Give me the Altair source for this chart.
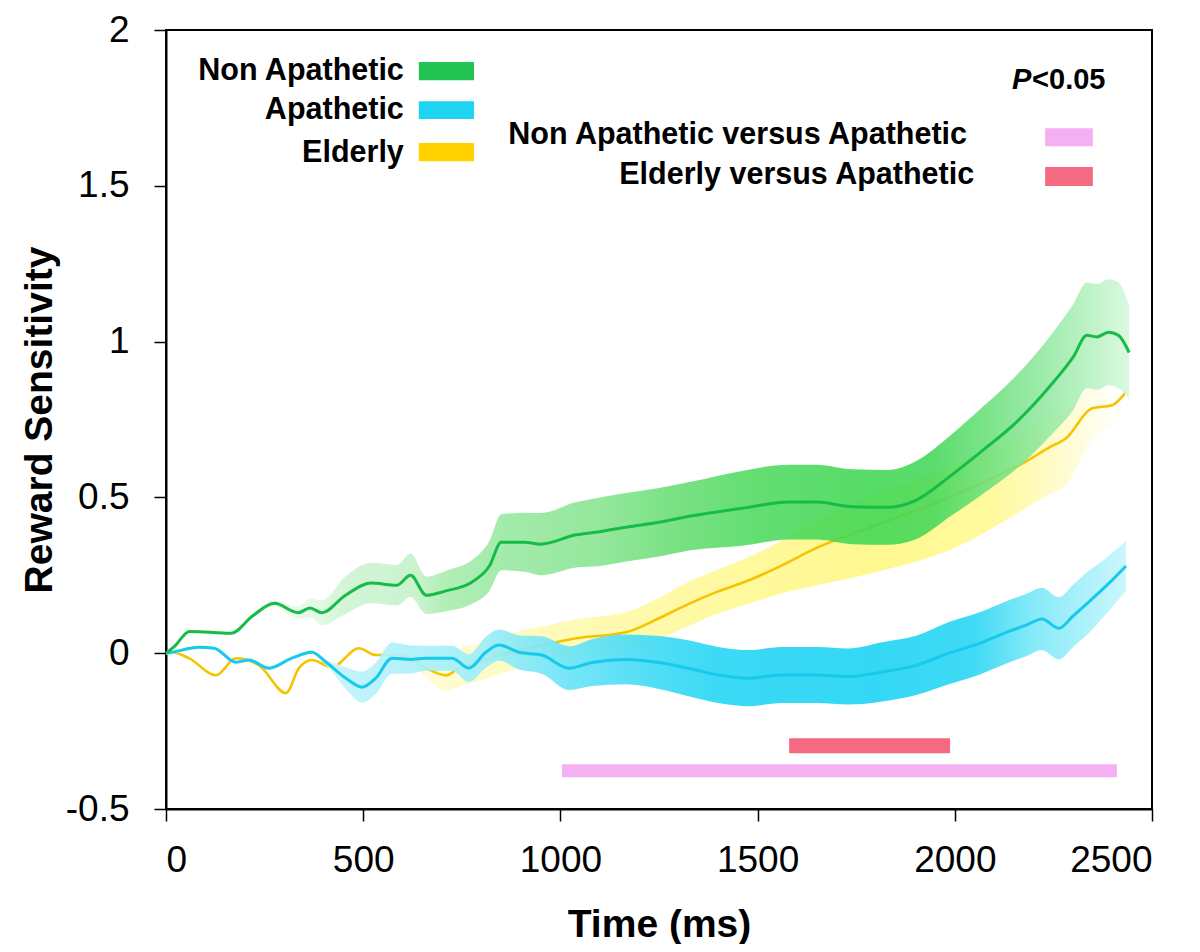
import altair as alt
import pandas as pd

# ---------------- data ----------------
# Non Apathetic (green): time (ms), mean, half-width of the shaded band
na_t = [0, 20, 60, 165, 220, 275, 335, 365, 395, 455, 520, 585, 620, 660, 710, 775, 820, 850, 910, 950,
        1040, 1100, 1170, 1250, 1330, 1460, 1580, 1650, 1740, 1830, 1900, 1990, 2070, 2155, 2240, 2300,
        2335, 2360, 2390, 2415, 2442]
na_m = [0, 0.02, 0.07, 0.064, 0.12, 0.16, 0.13, 0.145, 0.13, 0.186, 0.225, 0.218, 0.25, 0.186, 0.2, 0.228,
        0.28, 0.356, 0.356, 0.35, 0.38, 0.39, 0.405, 0.42, 0.44, 0.465, 0.485, 0.485, 0.47, 0.468, 0.49, 0.57,
        0.65, 0.74, 0.855, 0.95, 1.02, 1.015, 1.03, 1.02, 0.965]
na_hw = [0.005, 0.005, 0.005, 0.005, 0.005, 0.01, 0.02, 0.03, 0.04, 0.06, 0.065, 0.065, 0.07, 0.06, 0.065,
         0.07, 0.08, 0.09, 0.095, 0.1, 0.105, 0.11, 0.11, 0.11, 0.11, 0.12, 0.12, 0.12, 0.12, 0.12, 0.125,
         0.13, 0.14, 0.15, 0.16, 0.17, 0.17, 0.17, 0.17, 0.17, 0.15]

# Apathetic (cyan)
ap_t = [0, 15, 84, 122, 177, 210, 261, 319, 370, 406, 456, 497, 532, 573, 620, 659, 725, 768, 811, 844,
        895, 953, 1022, 1080, 1166, 1250, 1330, 1400, 1480, 1560, 1650, 1730, 1816, 1900, 1985, 2070, 2137,
        2181, 2221, 2264, 2300, 2340, 2383, 2434]
ap_m = [0, 0.003, 0.019, 0.016, -0.029, -0.022, -0.048, -0.016, 0.003, -0.029, -0.08, -0.109, -0.08,
        -0.016, -0.02, -0.016, -0.016, -0.048, 0.003, 0.026, 0.003, -0.006, -0.048, -0.03, -0.02, -0.03,
        -0.05, -0.07, -0.08, -0.07, -0.07, -0.075, -0.06, -0.04, 0.0, 0.035, 0.07, 0.09, 0.11, 0.08, 0.12,
        0.165, 0.215, 0.28]
ap_hw = [0.005, 0.005, 0.005, 0.005, 0.005, 0.005, 0.005, 0.005, 0.005, 0.01, 0.035, 0.05, 0.05, 0.05,
         0.045, 0.04, 0.04, 0.045, 0.05, 0.05, 0.055, 0.06, 0.07, 0.075, 0.08, 0.085, 0.09, 0.09, 0.09,
         0.09, 0.09, 0.09, 0.095, 0.095, 0.1, 0.1, 0.1, 0.1, 0.1, 0.1, 0.1, 0.1, 0.09, 0.08]

# Elderly (yellow): band is wider below the mean than above it
el_t = [0, 15, 58, 127, 177, 236, 304, 337, 370, 421, 489, 532, 591, 659, 710, 743, 794, 870, 953, 1040,
        1166, 1250, 1308, 1395, 1478, 1562, 1648, 1800, 1985, 2180, 2239, 2282, 2348, 2399, 2434]
el_m = [0, 0.003, -0.016, -0.071, -0.016, -0.039, -0.128, -0.048, -0.022, -0.045, 0.016, -0.006, -0.006,
        -0.048, -0.071, -0.048, -0.029, 0.003, 0.026, 0.048, 0.067, 0.112, 0.148, 0.196, 0.234, 0.282,
        0.337, 0.41, 0.50, 0.615, 0.66, 0.69, 0.786, 0.796, 0.838]
el_up = [0.004, 0.004, 0.004, 0.004, 0.004, 0.004, 0.004, 0.004, 0.004, 0.004, 0.004, 0.004, 0.004,
         0.03, 0.05, 0.06, 0.06, 0.06, 0.06, 0.06, 0.065, 0.065, 0.07, 0.07, 0.075, 0.08, 0.09, 0.1, 0.1,
         0.1, 0.1, 0.09, 0.06, 0.04, 0.02]
el_dn = [0.004, 0.004, 0.004, 0.004, 0.004, 0.004, 0.004, 0.004, 0.004, 0.004, 0.004, 0.004, 0.004,
         0.03, 0.05, 0.06, 0.06, 0.06, 0.06, 0.06, 0.065, 0.065, 0.07, 0.07, 0.075, 0.09, 0.12, 0.15, 0.17,
         0.15, 0.15, 0.15, 0.1, 0.06, 0.03]

# significance bars (p < 0.05)
sig_names = ["Non Apathetic versus Apathetic", "Elderly versus Apathetic"]
sig_start = [1004, 1580]
sig_end = [2411, 1988]
sig_colors = ["#f5b0f3", "#f56a80"]

# legend entries
grp_names = ["Non Apathetic", "Apathetic", "Elderly"]
grp_colors = ["#22c253", "#1fd3f2", "#ffd200"]

# ---------------- styles ----------------
FONT = "Liberation Sans"
LEG_FS = 30.5
XS = alt.Scale(domain=[0, 2500], nice=False)
YS = alt.Scale(domain=[-0.5, 2], nice=False)
XAX = alt.Axis(values=[0, 500, 1000, 1500, 2000, 2500], format="d", labelPadding=21, titlePadding=27)
YAX = alt.Axis(values=[-0.5, 0, 0.5, 1, 1.5, 2], labelPadding=25, titlePadding=6,
               labelExpr="datum.value < 0 ? '-' + format(-datum.value, '') : format(datum.value, '')")


def X(field):
    return alt.X(field, type="quantitative", scale=XS, axis=XAX, title="Time (ms)")


def Y(field):
    return alt.Y(field, type="quantitative", scale=YS, axis=YAX, title="Reward Sensitivity")


def band_df(t, m, dn, up):
    return pd.DataFrame({"t": t, "m": m, "lo": [a - b for a, b in zip(m, dn)],
                         "hi": [a + b for a, b in zip(m, up)]})


def grad(stops, tmax):
    return alt.Gradient(gradient="linear", x1=0, x2=1, y1=0, y2=0,
                        stops=[alt.GradientStop(offset=min(1.0, s / tmax), color=c) for s, c in stops])


green_stops = [(0, "#effcf0"), (380, "#e2f8e4"), (450, "#cdf4d1"), (640, "#c3f1c7"), (700, "#a8ecaf"),
               (850, "#97e8a0"), (1100, "#86e48f"), (1300, "#66dd72"), (1500, "#4ed95e"), (1800, "#3fd753"),
               (1950, "#45d85a"), (2100, "#6fe180"), (2250, "#98eaa6"), (2442, "#d6f8dc")]
cyan_stops = [(0, "#e6fafd"), (400, "#d9f7fc"), (450, "#bff3fb"), (600, "#aef0fa"), (800, "#9eeef9"),
              (1000, "#6fe4f7"), (1200, "#48dcf5"), (1400, "#2ad6f4"), (1800, "#22d4f4"), (2050, "#2fd7f4"),
              (2200, "#7de8f8"), (2434, "#c6f6fc")]
yellow_stops = [(0, "#fffde8"), (650, "#fffbd8"), (750, "#fffbcc"), (1000, "#fffab8"), (1300, "#fff9a6"),
                (1800, "#fff88f"), (2100, "#fffa9e"), (2300, "#fffcd8"), (2434, "#ffffff")]

series = [
    (el_t, el_m, el_dn, el_up, yellow_stops, "#f5c400", 1.0, 2.6),
    (ap_t, ap_m, ap_hw, ap_hw, cyan_stops, "#17c9ea", 0.92, 3.0),
    (na_t, na_m, na_hw, na_hw, green_stops, "#17bb48", 0.88, 3.0),
]

layers = []
for t, m, dn, up, stops, lc, op, lw in series:
    df = band_df(t, m, dn, up)
    area = alt.Chart(df).mark_area(color=grad(stops, max(t)), opacity=op, interpolate="monotone").encode(
        x=X("t"), y=Y("lo"), y2="hi")
    line = alt.Chart(df).mark_line(color=lc, strokeWidth=lw, interpolate="monotone").encode(
        x=X("t"), y=Y("m"))
    layers += [area, line]

# significance bars
sig_df = pd.DataFrame({"name": sig_names, "t": sig_start, "t2": sig_end, "c": sig_colors,
                       "v": [-0.356, -0.273], "v2": [-0.398, -0.321]})
layers.append(alt.Chart(sig_df).mark_rect().encode(
    x=X("t"), x2="t2", y=Y("v"), y2="v2", color=alt.Color("c:N", scale=None)))

# group legend (annotation)
leg_df = pd.DataFrame({"label": grp_names, "c": grp_colors,
                       "t": [603, 603, 603], "v": [1.868, 1.743, 1.605],
                       "sx": [641, 641, 641], "sx2": [781, 781, 781],
                       "sy": [1.897, 1.771, 1.637], "sy2": [1.839, 1.714, 1.579]})
layers.append(alt.Chart(leg_df).mark_text(align="right", baseline="middle", font=FONT, fontSize=LEG_FS,
                                          fontWeight="bold", color="black").encode(
    x=X("t"), y=Y("v"), text="label:N"))
layers.append(alt.Chart(leg_df).mark_rect().encode(
    x=X("sx"), x2="sx2", y=Y("sy"), y2="sy2", color=alt.Color("c:N", scale=None)))

# significance legend
sl_df = pd.DataFrame({"label": sig_names, "c": sig_colors, "t": [2031, 2049], "v": [1.662, 1.534],
                      "sx": [2229, 2229], "sx2": [2350, 2350], "sy": [1.685, 1.56], "sy2": [1.627, 1.499]})
layers.append(alt.Chart(sl_df).mark_text(align="right", baseline="middle", font=FONT, fontSize=LEG_FS,
                                         fontWeight="bold", color="black").encode(
    x=X("t"), y=Y("v"), text="label:N"))
layers.append(alt.Chart(sl_df).mark_rect().encode(
    x=X("sx"), x2="sx2", y=Y("sy"), y2="sy2", color=alt.Color("c:N", scale=None)))

p_df = pd.DataFrame({"label": ["P", "<0.05"], "t": [2145, 2196], "v": [1.839, 1.839]})
layers.append(alt.Chart(p_df[p_df["label"] == "P"]).mark_text(
    align="left", baseline="middle", font=FONT, fontSize=29, fontWeight="bold", fontStyle="italic",
    color="black").encode(x=X("t"), y=Y("v"), text="label:N"))
layers.append(alt.Chart(p_df[p_df["label"] != "P"]).mark_text(
    align="left", baseline="middle", font=FONT, fontSize=29, fontWeight="bold",
    color="black").encode(x=X("t"), y=Y("v"), text="label:N"))

chart = alt.layer(*layers).properties(
    width=986, height=779, background="white",
    padding={"left": 12, "top": 3, "right": 5, "bottom": 0}
).configure_view(
    stroke="black", strokeWidth=2
).configure_axis(
    grid=False, domainColor="black", domainWidth=2, tickColor="black", tickWidth=1.5, tickSize=12,
    labelFont=FONT, labelFontSize=37, labelColor="black",
    titleFont=FONT, titleFontSize=39, titleFontWeight="bold", titleColor="black"
)

chart.save("out.html", embed_options={"renderer": "svg", "actions": False})
